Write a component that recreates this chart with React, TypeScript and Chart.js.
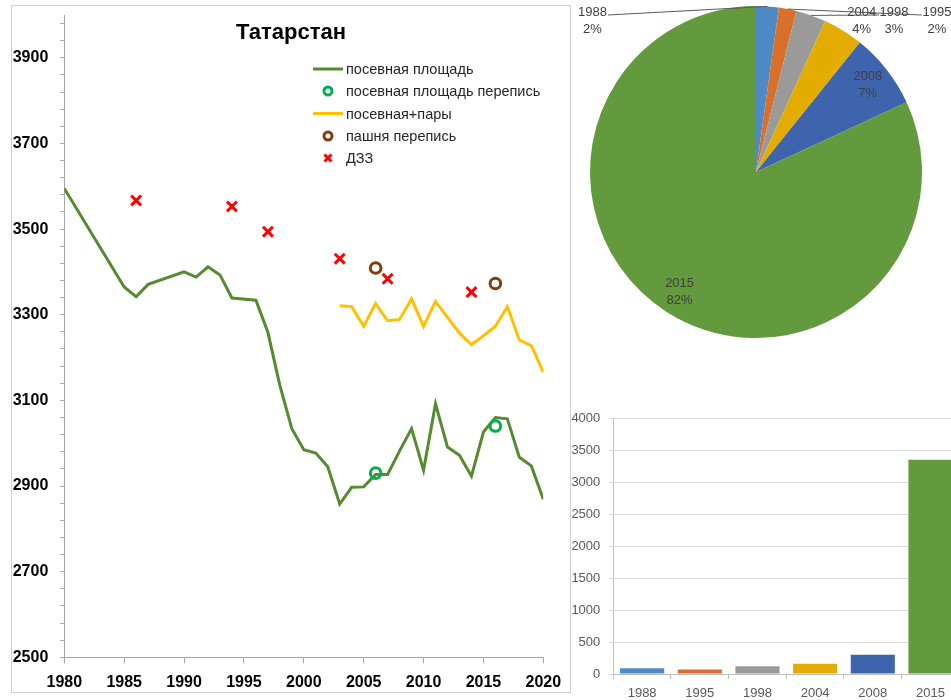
import React, { useEffect, useRef } from 'react';
import { Chart, registerables } from 'chart.js';

Chart.register(...registerables);

const FONT = '"Liberation Sans", Arial, sans-serif';

// ---- Left chart data (Татарстан) ----
const chartTitle = 'Татарстан';
const xTicksMin = 1980;
const xTicksMax = 2020;
const yMin = 2500;
const yMax = 4000;
const yMinorStep = 40;
const yLabelStep = 200;

const sownYears = [1980, 1985, 1986, 1987, 1990, 1991, 1992, 1993, 1994, 1996, 1997, 1998, 1999, 2000, 2001, 2002, 2003, 2004, 2005, 2006, 2007, 2008, 2009, 2010, 2011, 2012, 2013, 2014, 2015, 2016, 2017, 2018, 2019, 2020];
const sownValues = [3595, 3365, 3342, 3371, 3400, 3388, 3412, 3393, 3339, 3334, 3259, 3135, 3034, 2985, 2977, 2945, 2858, 2897, 2898, 2927, 2927, 2982, 3034, 2937, 3092, 2991, 2972, 2923, 3026, 3060, 3057, 2967, 2947, 2869];

const sownCensusYears = [2006, 2016];
const sownCensusValues = [2930, 3040];

const fallowYears = [2003, 2004, 2005, 2006, 2007, 2008, 2009, 2010, 2011, 2012, 2013, 2014, 2015, 2016, 2017, 2018, 2019, 2020];
const fallowValues = [3321, 3319, 3273, 3326, 3286, 3289, 3337, 3273, 3331, 3294, 3257, 3230, 3251, 3273, 3319, 3241, 3228, 3166];

const arableCensusYears = [2006, 2016];
const arableCensusValues = [3409, 3373];

const remoteYears = [1986, 1994, 1997, 2003, 2007, 2014];
const remoteValues = [3567, 3553, 3494, 3431, 3384, 3353];

const seriesNames = ['посевная площадь', 'посевная площадь перепись', 'посевная+пары', 'пашня перепись', 'ДЗЗ'];

// ---- Right charts data ----
const pieLabels = ['1988', '1995', '1998', '2004', '2008', '2015'];
const pieValues = [90, 70, 120, 160, 300, 3350];
const pieColors = ['#4E8AC6', '#D8702B', '#9A9A9A', '#E5AC00', '#3E64AE', '#629A3D'];

const GREEN = '#558A30';
const CENSUS_GREEN = '#00B050';
const YELLOW = '#FFC000';
const BROWN = '#843C0C';
const RED = '#FF0000';

const pts = (xs: number[], ys: number[]) => xs.map((x, i) => ({ x, y: ys[i] }));

const leftDecor = {
  id: 'leftDecor',
  afterDraw(chart: any) {
    const ctx = chart.ctx;
    ctx.save();
    ctx.fillStyle = '#000';
    ctx.font = `bold 22px ${FONT}`;
    ctx.textAlign = 'center';
    ctx.textBaseline = 'middle';
    ctx.fillText(chartTitle, 291, 33);

    const lx = 313, tx = 346;
    const rows = [69, 91, 113.5, 136, 158];
    ctx.font = `14.5px ${FONT}`;
    ctx.textAlign = 'left';
    ctx.fillStyle = '#262626';
    rows.forEach((y, i) => {
      ctx.fillText(seriesNames[i], tx, y + 1);
    });
    // markers
    ctx.lineCap = 'butt';
    ctx.strokeStyle = GREEN; ctx.lineWidth = 3;
    ctx.beginPath(); ctx.moveTo(lx, rows[0]); ctx.lineTo(lx + 30, rows[0]); ctx.stroke();
    ctx.strokeStyle = YELLOW;
    ctx.beginPath(); ctx.moveTo(lx, rows[2]); ctx.lineTo(lx + 30, rows[2]); ctx.stroke();
    ctx.strokeStyle = CENSUS_GREEN;
    ctx.beginPath(); ctx.arc(lx + 15, rows[1], 4, 0, Math.PI * 2); ctx.stroke();
    ctx.strokeStyle = BROWN;
    ctx.beginPath(); ctx.arc(lx + 15, rows[3], 4, 0, Math.PI * 2); ctx.stroke();
    ctx.strokeStyle = RED;
    const cx = lx + 15, cy = rows[4], d = 3.5;
    ctx.beginPath(); ctx.moveTo(cx - d, cy - d); ctx.lineTo(cx + d, cy + d);
    ctx.moveTo(cx + d, cy - d); ctx.lineTo(cx - d, cy + d); ctx.stroke();
    ctx.restore();
  },
};

function LineChart() {
  const ref = useRef<HTMLCanvasElement>(null);
  useEffect(() => {
    const chart = new Chart(ref.current!, {
      type: 'line',
      data: {
        datasets: [
          { label: seriesNames[1], data: pts(sownCensusYears, sownCensusValues), showLine: false, pointStyle: 'circle', pointRadius: 5.3, pointBorderWidth: 3, borderColor: CENSUS_GREEN, pointBorderColor: CENSUS_GREEN, pointBackgroundColor: 'rgba(0,0,0,0)', order: 0 },
          { label: seriesNames[3], data: pts(arableCensusYears, arableCensusValues), showLine: false, pointStyle: 'circle', pointRadius: 5.3, pointBorderWidth: 3, borderColor: BROWN, pointBorderColor: BROWN, pointBackgroundColor: 'rgba(0,0,0,0)', order: 0 },
          { label: seriesNames[4], data: pts(remoteYears, remoteValues), showLine: false, pointStyle: 'crossRot', pointRadius: 7, pointBorderWidth: 3, borderColor: RED, pointBorderColor: RED, order: 0 },
          { label: seriesNames[0], data: pts(sownYears, sownValues), borderColor: GREEN, borderWidth: 3, pointRadius: 0, tension: 0, order: 2 },
          { label: seriesNames[2], data: pts(fallowYears, fallowValues), borderColor: YELLOW, borderWidth: 3, pointRadius: 0, tension: 0, order: 1 },
        ],
      },
      options: {
        animation: false,
        responsive: false,
        events: [],
        layout: { padding: { left: 0, right: 27.7, top: 15, bottom: 0 } },
        plugins: { legend: { display: false }, tooltip: { enabled: false }, title: { display: false } },
        scales: {
          x: {
            type: 'linear', min: xTicksMin, max: xTicksMax,
            ticks: { stepSize: 5, color: '#000', font: { family: FONT, size: 16, weight: 'bold' }, padding: 10, callback: (v: any) => String(Math.round(v)) },
            grid: { display: true, drawOnChartArea: false, drawTicks: true, tickLength: 6, color: '#A6A6A6' },
            border: { display: true, color: '#A6A6A6' },
            afterFit: (s: any) => { s.height = 42.7; s.paddingLeft = 0; s.paddingRight = 0; },
          },
          y: {
            type: 'linear', min: yMin, max: yMax,
            afterBuildTicks: (axis: any) => {
              const t: any[] = [];
              for (let v = yMin; v < yMax; v += yMinorStep) t.push({ value: v });
              axis.ticks = t;
            },
            ticks: { autoSkip: false, color: '#000', font: { family: FONT, size: 16, weight: 'bold' }, padding: 12, callback: (v: any) => { const r = Math.round(v); return (r - yMin) % yLabelStep === 0 ? String(r) : ''; } },
            grid: { display: true, drawOnChartArea: false, drawTicks: true, tickLength: 4, color: '#A6A6A6' },
            border: { display: true, color: '#A6A6A6' },
            afterFit: (s: any) => { s.width = 64.3; s.paddingTop = 0; s.paddingBottom = 0; },
          },
        },
      },
      plugins: [leftDecor],
    } as any);
    return () => chart.destroy();
  }, []);
  return <canvas ref={ref} width={571} height={700} style={{ position: 'absolute', left: 0, top: 0, width: 571, height: 700 }} />;
}

// label positions (canvas coords) for outside labels of the pie
const outsideLabelPos: Record<string, [number, number]> = { '1988': [20.5, 12], '2004': [289.7, 12], '1998': [322, 12], '1995': [365, 12] };
const leaderEnd: Record<string, [number, number]> = { '1988': [36, 15], '1995': [349.7, 15], '1998': [307, 15] };

const pieDecor = {
  id: 'pieDecor',
  afterDraw(chart: any) {
    const ctx = chart.ctx;
    const meta = chart.getDatasetMeta(0);
    const total = pieValues.reduce((a, b) => a + b, 0);
    ctx.save();
    ctx.font = `13px ${FONT}`;
    ctx.textAlign = 'center';
    ctx.textBaseline = 'middle';
    ctx.fillStyle = '#404040';
    ctx.strokeStyle = '#595959';
    ctx.lineWidth = 1;
    meta.data.forEach((arc: any, i: number) => {
      const { x, y, startAngle, endAngle, outerRadius } = arc.getProps(['x', 'y', 'startAngle', 'endAngle', 'outerRadius'], true);
      const mid = (startAngle + endAngle) / 2;
      const lab = pieLabels[i];
      const pct = Math.round((pieValues[i] / total) * 100) + '%';
      if (leaderEnd[lab]) {
        const ex = x + Math.cos(mid) * outerRadius;
        const ey = y + Math.sin(mid) * outerRadius;
        ctx.beginPath();
        ctx.moveTo(ex, ey);
        ctx.lineTo(leaderEnd[lab][0], leaderEnd[lab][1]);
        ctx.stroke();
      }
      let lx: number, ly: number;
      if (outsideLabelPos[lab]) {
        [lx, ly] = outsideLabelPos[lab];
        ctx.fillText(lab, lx, ly);
        ctx.fillText(pct, lx, ly + 17);
      } else {
        lx = x + Math.cos(mid) * outerRadius * 0.855;
        ly = y + Math.sin(mid) * outerRadius * 0.855;
        ctx.fillText(lab, lx, ly - 8.5);
        ctx.fillText(pct, lx, ly + 8.5);
      }
    });
    ctx.restore();
  },
};

function PieChart() {
  const ref = useRef<HTMLCanvasElement>(null);
  useEffect(() => {
    const chart = new Chart(ref.current!, {
      type: 'pie',
      data: { labels: pieLabels, datasets: [{ data: pieValues, backgroundColor: pieColors, borderWidth: 0 }] },
      options: {
        animation: false,
        responsive: false,
        events: [],
        layout: { padding: { left: 18, right: 29, top: 6, bottom: 67 } },
        plugins: { legend: { display: false }, tooltip: { enabled: false } },
      },
      plugins: [pieDecor],
    } as any);
    return () => chart.destroy();
  }, []);
  return <canvas ref={ref} width={379} height={405} style={{ position: 'absolute', left: 572, top: 0, width: 379, height: 405 }} />;
}

function BarChart() {
  const ref = useRef<HTMLCanvasElement>(null);
  useEffect(() => {
    const chart = new Chart(ref.current!, {
      type: 'bar',
      data: { labels: pieLabels, datasets: [{ data: pieValues, backgroundColor: pieColors, barPercentage: 0.765, categoryPercentage: 1 }] },
      options: {
        animation: false,
        responsive: false,
        events: [],
        layout: { padding: { left: 0, right: 11.7, top: 18.3, bottom: 0 } },
        plugins: { legend: { display: false }, tooltip: { enabled: false } },
        scales: {
          x: {
            ticks: { color: '#595959', font: { family: FONT, size: 13 }, padding: 7 },
            grid: { display: true, offset: true, drawOnChartArea: false, drawTicks: true, tickLength: 5, color: '#BFBFBF' },
            border: { display: true, color: '#BFBFBF' },
            afterFit: (s: any) => { s.height = 26; },
          },
          y: {
            min: 0, max: 4000,
            ticks: { stepSize: 500, color: '#595959', font: { family: FONT, size: 13 }, padding: 9, callback: (v: any) => String(Math.round(v)) },
            grid: { color: '#D9D9D9', tickLength: 4 },
            border: { display: true, color: '#BFBFBF' },
            afterFit: (s: any) => { s.width = 42.3; },
          },
        },
      },
    } as any);
    return () => chart.destroy();
  }, []);
  return (
    <div style={{ position: 'absolute', left: 571, top: 400, width: 380, height: 300, overflow: 'hidden' }}>
      <canvas ref={ref} width={400} height={300} style={{ position: 'absolute', left: 0, top: 0, width: 400, height: 300 }} />
    </div>
  );
}

export default function App() {
  return (
    <div style={{ position: 'absolute', left: 0, top: 0, width: 951, height: 700, overflow: 'hidden', background: '#fff' }}>
      <div style={{ position: 'absolute', left: 11, top: 5, width: 558, height: 686, border: '1px solid #D0D0D0' }} />
      <LineChart />
      <PieChart />
      <BarChart />
    </div>
  );
}
